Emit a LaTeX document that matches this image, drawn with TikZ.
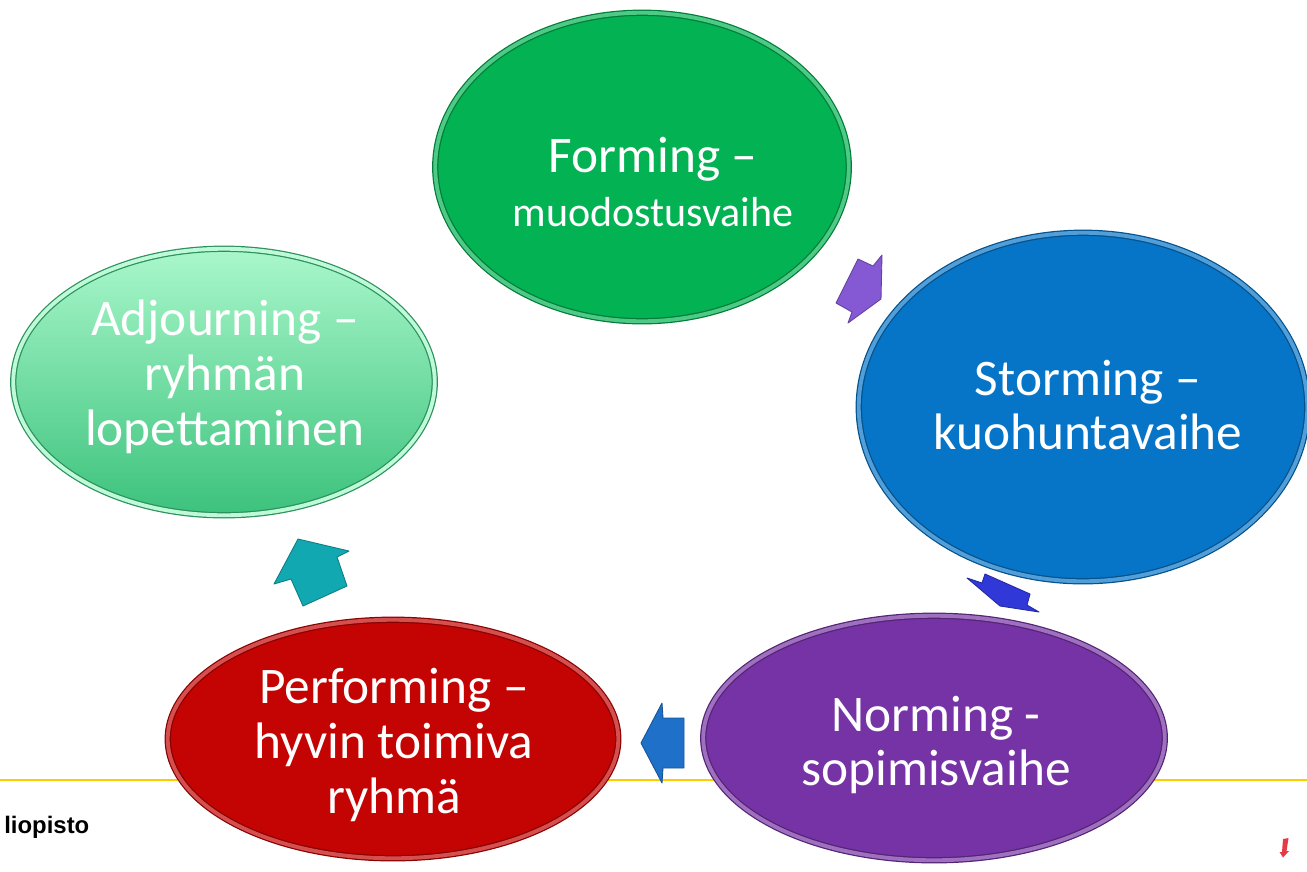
\documentclass[tikz,border=0pt]{standalone}
\usepackage{fontspec}
\setmainfont{Carlito}
\newfontfamily\logofont{Liberation Sans}
\usetikzlibrary{shapes.geometric}

\definecolor{formgreen}{HTML}{03B252}
\definecolor{stormblue}{HTML}{0675C8}
\definecolor{normpurple}{HTML}{7633A5}
\definecolor{perfred}{HTML}{C40303}
\definecolor{adjtop}{HTML}{A9F7CB}
\definecolor{adjbottom}{HTML}{3CC27C}
\definecolor{arrpurple}{HTML}{8558D4}
\definecolor{arrblue}{HTML}{3038D8}
\definecolor{arrsky}{HTML}{1F70C8}
\definecolor{arrteal}{HTML}{12A8B2}
\definecolor{footyellow}{HTML}{FFCC00}
\definecolor{markred}{HTML}{E63A44}

\begin{document}
\begin{tikzpicture}[
        x=0.2mm, y=-0.2mm,
        stage/.style = {ellipse, inner sep=0pt, line width=0.7pt, double distance=2.2pt},
        stagetext/.style = {text=white, align=center, font=\fontsize{29.2}{31.2}\selectfont},
        blockarrow/.style = {fill=#1, draw=#1!75!black, line width=0.5pt, line join=round}
    ]
 \useasboundingbox (0,0) rectangle (1307,871);

 % footer line and logo
 \coordinate (footleft) at (0,780);
 \coordinate (footright) at (1307,780);
 \draw[footyellow, line width=1.1pt] (footleft) -- (footright);
 \node[anchor=west, inner sep=0pt, font=\logofont\bfseries\fontsize{13.6}{15}\selectfont] (logo) at (4,827) {liopisto};
 \fill[markred] (1283,839) -- (1288.5,838) -- (1286.5,851) -- (1289,851) -- (1283,857.5) -- (1279.5,852) -- (1282,852) -- cycle;

 % the five stages
 \node[stage, fill=formgreen, draw=formgreen!70!black, double=formgreen!70!white,
       minimum width=82.7mm, minimum height=61.7mm] (forming) at (642,167) {};
 \node[stage, fill=stormblue, draw=stormblue!70!black, double=stormblue!70!white,
       minimum width=89.7mm, minimum height=69.7mm] (storming) at (1083,407) {};
 \node[stage, top color=adjtop, bottom color=adjbottom, draw=adjbottom!75!black, double=adjtop!75!white,
       minimum width=84.3mm, minimum height=53.3mm] (adjourning) at (224,382) {};
 \node[stage, fill=perfred, draw=perfred!70!black, double=perfred!70!white,
       minimum width=90.1mm, minimum height=47.7mm] (performing) at (393,739) {};
 \node[stage, fill=normpurple, draw=normpurple!70!black, double=normpurple!70!white,
       minimum width=92.3mm, minimum height=48.9mm] (norming) at (934,738) {};

 \node[stagetext] (formingtxt) at (653,182) {Forming –\\{\fontsize{23.9}{28}\selectfont muodostusvaihe}};
 \node[stagetext] (stormingtxt) at (1088,405) {Storming –\\kuohuntavaihe};
 \node[stagetext] (adjourningtxt) at (225,377) {Adjourning –\\ryhmän\\lopettaminen};
 \node[stagetext] (performingtxt) at (394,745) {Performing –\\hyvin toimiva\\ryhmä};
 \node[stagetext] (normingtxt) at (936,745) {Norming -\\sopimisvaihe};

 % arrows between the stages
 \draw[blockarrow=arrpurple] (858,259) -- (873,266) -- (882,255) -- (881,299) -- (848,323) -- (852,312) -- (836,303) -- cycle;
 \draw[blockarrow=arrblue] (985,574) -- (1030,594) -- (1027,605) -- (1039,612) -- (1000,606) -- (967,578) -- (982,583) -- cycle;
 \draw[blockarrow=arrsky] (641,743) -- (662,703) -- (663,718) -- (684,718) -- (684,768) -- (663,768) -- (662,783) -- cycle;
 \draw[blockarrow=arrteal] (298,539) -- (349,551) -- (337,557) -- (347,586) -- (303,606) -- (291,579) -- (274,584) -- cycle;
\end{tikzpicture}
\end{document}
